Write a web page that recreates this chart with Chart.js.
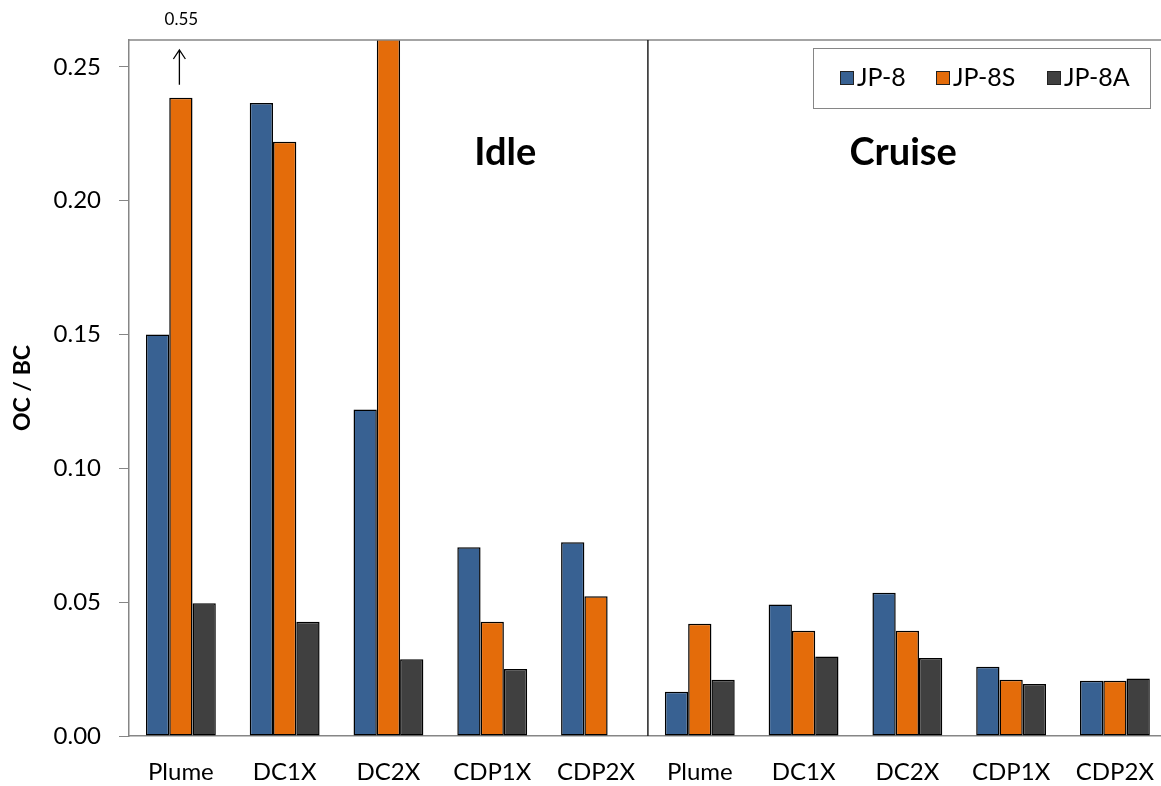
<!DOCTYPE html>
<html>
<head>
<meta charset="utf-8">
<script src="https://cdn.jsdelivr.net/npm/chart.js@4.4.0/dist/chart.umd.min.js"></script>
<style>
  html, body { margin: 0; padding: 0; background: #fff; overflow: hidden; }
  #wrap { width: 1176px; height: 786px; }
</style>
</head>
<body>
<div id="wrap"><canvas id="chart" width="1176" height="786"></canvas></div>
<script>
// data
const categories = ['Plume', 'DC1X', 'DC2X', 'CDP1X', 'CDP2X', 'Plume', 'DC1X', 'DC2X', 'CDP1X', 'CDP2X'];
const seriesNames = ['JP-8', 'JP-8S', 'JP-8A'];
const jp8  = [0.150, 0.2365, 0.122, 0.0705, 0.0724, 0.0165, 0.0491, 0.0535, 0.0259, 0.0206];
const jp8s = [0.2384, 0.222, 0.55, 0.0427, 0.0522, 0.0419, 0.0393, 0.0393, 0.0210, 0.0206];
const jp8a = [0.0496, 0.0427, 0.0287, 0.0250, null, 0.0210, 0.0297, 0.0291, 0.0194, 0.0215];
const yTicks = [0, 0.05, 0.10, 0.15, 0.20, 0.25];
const phases = ['Idle', 'Cruise'];
const offScaleLabel = '0.55';

const colors = ['#386192', '#E46C0A', '#404040'];
const FONT = 'Lato, "Open Sans", sans-serif';

// text, divider, arrow and boxed legend
const extras = {
  id: 'extras',
  afterDatasetsDraw(chart) {
    const ctx = chart.ctx;
    const area = chart.chartArea;
    const x = chart.scales.x, y = chart.scales.y;
    ctx.save();

    // top frame line
    ctx.strokeStyle = '#868686';
    ctx.lineWidth = 1.5;
    ctx.beginPath();
    ctx.moveTo(area.left, area.top);
    ctx.lineTo(chart.width, area.top);
    ctx.stroke();

    // divider between Idle and Cruise
    const xd = (x.getPixelForValue(4) + x.getPixelForValue(5)) / 2;
    ctx.strokeStyle = '#222';
    ctx.lineWidth = 1.5;
    ctx.beginPath();
    ctx.moveTo(xd, area.top);
    ctx.lineTo(xd, area.bottom);
    ctx.stroke();

    // phase names
    ctx.fillStyle = '#000';
    ctx.font = 'bold 38px ' + FONT;
    ctx.textAlign = 'center';
    ctx.textBaseline = 'middle';
    ctx.fillText(phases[0], x.getPixelForDecimal(0.3625), y.getPixelForValue(0.218));
    ctx.fillText(phases[1], x.getPixelForDecimal(0.746), y.getPixelForValue(0.218));

    // off-scale arrow over Plume JP-8S
    const bar = chart.getDatasetMeta(1).data[0];
    const ax = bar.x - 1.5;
    const yb = bar.y - 13, yt = area.top + 10;
    ctx.strokeStyle = '#000';
    ctx.lineWidth = 1.3;
    ctx.beginPath();
    ctx.moveTo(ax, yb);
    ctx.lineTo(ax, yt);
    ctx.moveTo(ax - 6, yt + 9);
    ctx.lineTo(ax, yt);
    ctx.lineTo(ax + 6, yt + 9);
    ctx.stroke();
    ctx.font = '17px ' + FONT;
    ctx.fillText(offScaleLabel, ax + 2, area.top - 20);

    // legend box
    const lx = 813, ly = area.top + 8, lw = 337, lh = 60;
    ctx.fillStyle = '#fff';
    ctx.fillRect(lx, ly, lw, lh);
    ctx.strokeStyle = '#868686';
    ctx.lineWidth = 1;
    ctx.strokeRect(lx + 0.5, ly + 0.5, lw, lh);
    const itemX = [840, 936, 1047];
    ctx.font = '25px ' + FONT;
    ctx.textAlign = 'left';
    seriesNames.forEach((name, i) => {
      ctx.fillStyle = colors[i];
      ctx.fillRect(itemX[i], ly + 23, 13, 13);
      ctx.strokeStyle = '#222';
      ctx.strokeRect(itemX[i] + 0.5, ly + 23.5, 13, 13);
      ctx.fillStyle = '#000';
      ctx.fillText(name, itemX[i] + 17, ly + 30);
    });

    ctx.restore();
  }
};

new Chart(document.getElementById('chart'), {
  type: 'bar',
  data: {
    labels: categories,
    datasets: [jp8, jp8s, jp8a].map((d, i) => ({
      label: seriesNames[i],
      data: d,
      backgroundColor: colors[i],
      borderColor: '#000',
      borderWidth: 1.5,
      borderSkipped: false,
      categoryPercentage: 0.673,
      barPercentage: 1.0,
    })),
  },
  options: {
    responsive: false,
    animation: false,
    devicePixelRatio: 1,
    layout: { padding: { top: 40, left: 0, right: 0, bottom: 0 } },
    plugins: { legend: { display: false }, tooltip: { enabled: false } },
    scales: {
      x: {
        grid: { display: false, drawTicks: false },
        border: { color: '#868686', width: 1.5 },
        ticks: { color: '#000', font: { family: FONT, size: 24 }, padding: 22, maxRotation: 0, autoSkip: false },
        afterFit(s) { s.height = 50; },
      },
      y: {
        min: 0,
        max: 0.26,
        afterBuildTicks(s) { s.ticks = yTicks.map(v => ({ value: v })); },
        grid: { drawOnChartArea: false, drawTicks: true, tickLength: 10, color: '#868686' },
        border: { color: '#868686', width: 1.5 },
        ticks: {
          color: '#000',
          font: { family: FONT, size: 24 },
          padding: 18,
          callback: v => v.toFixed(2),
        },
        title: {
          display: true,
          text: 'OC / BC',
          color: '#000',
          font: { family: FONT, size: 23, weight: 'bold' },
          padding: { top: 9, bottom: 0 },
        },
        afterFit(s) { s.width = 129; },
      },
    },
  },
  plugins: [extras],
});
</script>
</body>
</html>
